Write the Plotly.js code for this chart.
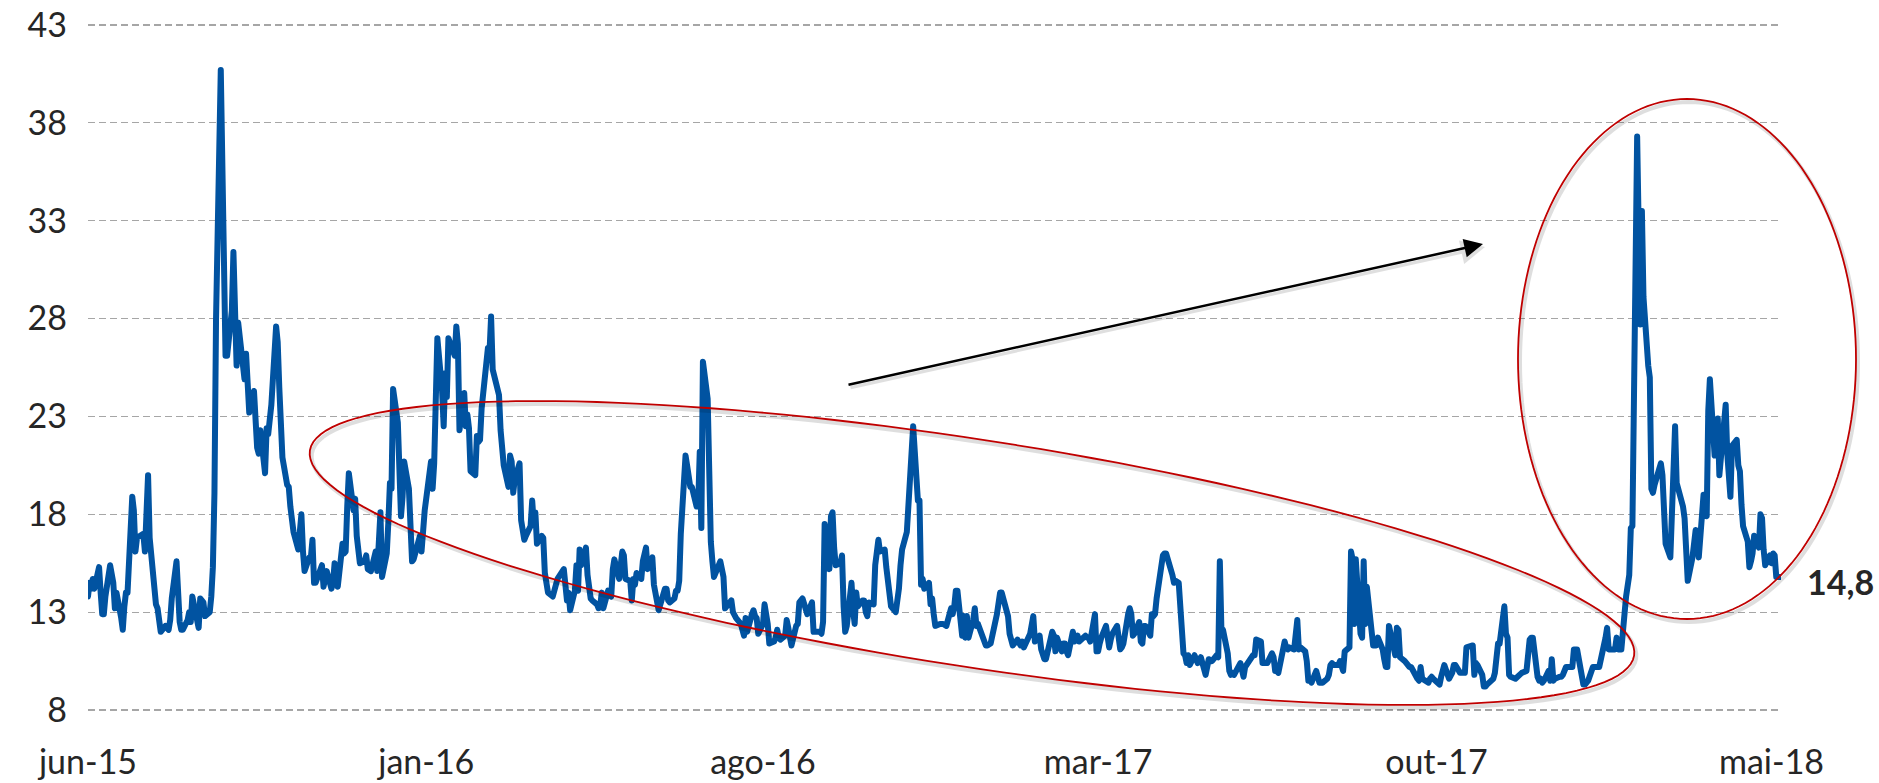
<!DOCTYPE html>
<html>
<head>
<meta charset="utf-8">
<script src="https://cdn.plot.ly/plotly-3.0.1.min.js"></script>
<style>
html,body{margin:0;padding:0;background:#ffffff;}
#chart{width:1879px;height:783px;}
.js-line{stroke-linejoin:round !important;stroke-linecap:round !important;}
</style>
</head>
<body>
<div id="chart"></div>
<script>
// ---- data (daily closes) ----
const days2015 = [
 "06-01","06-02","06-03","06-04","06-05","06-08","06-09","06-10","06-11","06-12","06-15","06-16","06-17","06-18","06-19","06-22","06-23","06-24","06-25","06-26","06-29","06-30",
 "07-01","07-02","07-06","07-07","07-08","07-09","07-10","07-13","07-14","07-15","07-16","07-17","07-20","07-21","07-22","07-23","07-24","07-27","07-28","07-29","07-30","07-31",
 "08-03","08-04","08-05","08-06","08-07","08-10","08-11","08-12","08-13","08-14","08-17","08-18","08-19","08-20","08-21","08-24","08-25","08-26","08-27","08-28","08-31",
 "09-01","09-02","09-03","09-04","09-08","09-09","09-10","09-11","09-14","09-15","09-16","09-17","09-18","09-21","09-22","09-23","09-24","09-25","09-28","09-29","09-30",
 "10-01","10-02","10-05","10-06","10-07","10-08","10-09","10-12","10-13","10-14","10-15","10-16","10-19","10-20","10-21","10-22","10-23","10-26","10-27","10-28","10-29","10-30",
 "11-02","11-03","11-04","11-05","11-06","11-09","11-10","11-11","11-12","11-13","11-16","11-17","11-18","11-19","11-20","11-23","11-24","11-25","11-27","11-30",
 "12-01","12-02","12-03","12-04","12-07","12-08","12-09","12-10","12-11","12-14","12-15","12-16","12-17","12-18","12-21","12-22","12-23","12-24","12-28","12-29","12-30","12-31"
];
const vals2015 = [
 13.8,14.5,14.2,14.7,14.2,15.3,14.0,12.9,12.9,13.8,15.4,14.8,14.5,13.2,14.0,12.7,12.1,13.3,14.0,14.0,18.9,18.2,
 16.1,16.8,17.0,16.1,19.7,20.0,16.8,13.9,13.4,13.2,12.1,12.0,12.3,12.2,12.1,12.6,13.7,15.6,13.4,12.5,12.1,12.1,
 12.6,13.0,12.5,13.8,13.4,12.2,13.7,13.6,13.5,12.8,13.0,13.8,15.3,19.1,28.0,40.7,36.0,30.3,26.1,26.1,28.4,
 31.4,26.1,25.6,27.8,24.9,26.2,24.4,23.2,24.3,22.5,21.4,21.1,22.3,20.1,22.4,22.1,23.5,23.6,27.6,26.8,24.5,
 22.6,20.9,19.5,19.4,18.4,17.4,17.1,16.2,17.7,18.0,16.1,15.1,15.8,15.8,16.7,14.5,14.5,15.3,15.4,14.3,14.6,15.1,
 14.2,14.5,15.5,15.1,14.3,16.5,16.0,16.1,18.4,20.1,18.2,18.8,16.9,16.1,15.5,15.6,15.9,15.2,15.1,16.1,
 15.1,16.6,18.1,14.8,16.0,17.6,19.6,19.3,24.4,22.7,21.0,17.9,18.9,20.7,19.3,16.6,15.6,15.7,16.9,16.1,17.3,18.2
];

const days2016 = [
 "01-04","01-05","01-06","01-07","01-08","01-11","01-12","01-13","01-14","01-15","01-19","01-20","01-21","01-22","01-25","01-26","01-27","01-28","01-29",
 "02-01","02-02","02-03","02-04","02-05","02-08","02-09","02-10","02-11","02-12","02-16","02-17","02-18","02-19","02-22","02-23","02-24","02-25","02-26","02-29",
 "03-01","03-02","03-03","03-04","03-07","03-08","03-09","03-10","03-11","03-14","03-15","03-16","03-17","03-18","03-21","03-22","03-23","03-24","03-28","03-29","03-30","03-31",
 "04-01","04-04","04-05","04-06","04-07","04-08","04-11","04-12","04-13","04-14","04-15","04-18","04-19","04-20","04-21","04-22","04-25","04-26","04-27","04-28","04-29",
 "05-02","05-03","05-04","05-05","05-06","05-09","05-10","05-11","05-12","05-13","05-16","05-17","05-18","05-19","05-20","05-23","05-24","05-25","05-26","05-27","05-31",
 "06-01","06-02","06-03","06-06","06-07","06-08","06-09","06-10","06-13","06-14","06-15","06-16","06-17","06-20","06-21","06-22","06-23","06-24","06-27","06-28","06-29","06-30",
 "07-01","07-05","07-06","07-07","07-08","07-11","07-12","07-13","07-14","07-15","07-18","07-19","07-20","07-21","07-22","07-25","07-26","07-27","07-28","07-29",
 "08-01","08-02","08-03","08-04","08-05","08-08","08-09","08-10","08-11","08-12","08-15","08-16","08-17","08-18","08-19","08-22","08-23","08-24","08-25","08-26","08-29","08-30","08-31",
 "09-01","09-02","09-06","09-07","09-08","09-09","09-12","09-13","09-14","09-15","09-16","09-19","09-20","09-21","09-22","09-23","09-26","09-27","09-28","09-29","09-30",
 "10-03","10-04","10-05","10-06","10-07","10-10","10-11","10-12","10-13","10-14","10-17","10-18","10-19","10-20","10-21","10-24","10-25","10-26","10-27","10-28","10-31",
 "11-01","11-02","11-03","11-04","11-07","11-08","11-09","11-10","11-11","11-14","11-15","11-16","11-17","11-18","11-21","11-22","11-23","11-25","11-28","11-29","11-30",
 "12-01","12-02","12-05","12-06","12-07","12-08","12-09","12-12","12-13","12-14","12-15","12-16","12-19","12-20","12-21","12-22","12-23","12-27","12-28","12-29","12-30"
];
const vals2016 = [
 20.7,19.3,20.6,25.0,27.0,24.3,22.5,25.2,24.0,27.0,26.1,27.6,26.7,22.3,24.2,22.5,23.1,22.4,20.2,
 20.0,22.0,21.7,21.8,23.4,26.0,26.5,26.3,28.1,25.4,24.1,22.3,21.6,20.5,19.4,21.0,20.7,19.1,19.8,20.6,
 17.7,17.1,16.7,16.9,17.4,18.7,17.5,18.1,16.5,16.9,16.8,15.0,14.4,14.0,13.8,14.2,14.5,14.7,15.2,13.8,13.6,14.0,
 13.1,14.1,15.4,14.1,16.2,15.4,16.3,14.9,13.8,13.7,13.6,13.4,13.2,13.3,14.0,13.2,14.1,14.0,13.8,15.2,15.7,
 14.7,15.6,16.1,15.9,14.7,14.6,13.6,14.7,14.4,15.0,14.7,15.6,16.0,16.3,15.2,15.8,14.4,13.9,13.4,13.1,14.2,
 14.2,13.6,13.5,13.7,14.1,14.1,14.6,17.0,21.0,20.5,20.1,19.4,19.4,18.4,18.5,21.2,17.3,25.8,23.9,18.8,16.6,15.6,
 14.8,15.6,15.0,14.8,13.2,13.5,13.6,13.0,12.8,12.7,12.4,12.0,11.8,12.7,12.0,12.9,13.1,12.8,12.7,11.9,
 12.4,13.4,12.9,12.4,11.4,11.5,11.7,12.1,11.7,11.6,11.8,12.6,12.2,11.4,11.3,12.3,12.4,13.5,13.6,13.7,12.9,13.1,13.4,
 13.5,12.0,12.0,11.9,12.5,17.5,15.2,17.9,18.1,16.3,15.4,15.5,15.9,13.3,12.0,12.3,14.5,13.1,12.4,14.0,13.3,
 13.6,13.6,13.0,12.8,13.5,13.4,15.4,15.9,16.7,16.1,16.2,15.3,14.4,13.8,13.3,13.0,13.5,14.2,15.4,16.2,17.1,
 18.6,19.3,22.1,22.5,18.7,18.7,14.4,14.7,14.2,14.5,13.4,13.7,12.9,12.3,12.4,12.4,12.4,12.3,13.2,12.9,13.3,
 14.1,14.1,11.8,12.8,11.7,12.8,11.7,12.6,13.2,12.3,12.4,12.2,11.4,11.3,11.3,11.4,11.4,12.9,13.9,14.0,14.0
];

const days2017 = [
 "01-03","01-04","01-05","01-06","01-09","01-10","01-11","01-12","01-13","01-17","01-18","01-19","01-20","01-23","01-24","01-25","01-26","01-27","01-30","01-31",
 "02-01","02-02","02-03","02-06","02-07","02-08","02-09","02-10","02-13","02-14","02-15","02-16","02-17","02-21","02-22","02-23","02-24","02-27","02-28",
 "03-01","03-02","03-03","03-06","03-07","03-08","03-09","03-10","03-13","03-14","03-15","03-16","03-17","03-20","03-21","03-22","03-23","03-24","03-27","03-28","03-29","03-30","03-31",
 "04-03","04-04","04-05","04-06","04-07","04-10","04-11","04-12","04-13","04-17","04-18","04-19","04-20","04-21","04-24","04-25","04-26","04-27","04-28",
 "05-01","05-02","05-03","05-04","05-05","05-08","05-09","05-10","05-11","05-12","05-15","05-16","05-17","05-18","05-19","05-22","05-23","05-24","05-25","05-26","05-30","05-31",
 "06-01","06-02","06-05","06-06","06-07","06-08","06-09","06-12","06-13","06-14","06-15","06-16","06-19","06-20","06-21","06-22","06-23","06-26","06-27","06-28","06-29","06-30",
 "07-03","07-05","07-06","07-07","07-10","07-11","07-12","07-13","07-14","07-17","07-18","07-19","07-20","07-21","07-24","07-25","07-26","07-27","07-28","07-31",
 "08-01","08-02","08-03","08-04","08-07","08-08","08-09","08-10","08-11","08-14","08-15","08-16","08-17","08-18","08-21","08-22","08-23","08-24","08-25","08-28","08-29","08-30","08-31",
 "09-01","09-05","09-06","09-07","09-08","09-11","09-12","09-13","09-14","09-15","09-18","09-19","09-20","09-21","09-22","09-25","09-26","09-27","09-28","09-29",
 "10-02","10-03","10-04","10-05","10-06","10-09","10-10","10-11","10-12","10-13","10-16","10-17","10-18","10-19","10-20","10-23","10-24","10-25","10-26","10-27","10-30","10-31",
 "11-01","11-02","11-03","11-06","11-07","11-08","11-09","11-10","11-13","11-14","11-15","11-16","11-17","11-20","11-21","11-22","11-24","11-27","11-28","11-29","11-30",
 "12-01","12-04","12-05","12-06","12-07","12-08","12-11","12-12","12-13","12-14","12-15","12-18","12-19","12-20","12-21","12-22","12-26","12-27","12-28","12-29"
];
const vals2017 = [
 12.8,11.9,11.7,11.3,11.6,11.5,11.3,11.5,11.2,11.9,12.5,12.8,11.5,11.8,11.1,10.8,10.6,10.6,11.9,12.0,
 11.8,11.0,11.7,11.0,11.4,11.4,11.0,10.8,12.0,11.5,11.7,11.8,11.5,11.8,11.7,11.7,11.5,12.9,11.0,
 11.0,11.4,11.7,12.3,11.5,11.2,11.6,11.9,12.3,11.6,11.1,11.2,11.4,12.9,13.2,12.9,11.8,11.9,12.5,11.5,11.4,12.3,12.3,
 11.8,12.9,12.8,12.9,13.7,15.5,15.9,16.0,16.0,14.9,14.5,14.6,14.5,14.5,10.9,10.8,10.4,10.8,10.3,
 10.8,10.6,10.4,10.5,10.7,9.8,10.4,10.6,10.5,10.5,10.8,10.7,15.6,12.1,12.1,10.9,10.0,9.8,9.9,9.8,10.4,9.8,
 9.7,10.2,10.6,10.7,10.8,10.8,11.6,11.5,10.4,10.4,10.4,10.4,10.9,10.7,10.0,10.0,9.9,11.1,11.5,11.2,11.1,11.2,
 11.1,12.6,11.1,11.2,11.0,10.5,9.5,9.6,9.4,10.0,9.5,9.4,9.4,9.4,9.6,9.8,10.3,10.4,10.3,10.3,
 10.5,10.1,10.0,11.0,11.2,16.1,15.7,12.4,15.7,11.9,11.7,15.6,12.4,14.3,11.4,11.3,11.3,11.3,11.7,11.1,10.6,10.2,10.2,
 12.3,10.8,12.2,12.1,10.7,10.5,10.4,10.2,10.2,10.2,9.6,9.6,9.5,10.2,9.6,9.5,9.4,9.6,9.7,9.6,
 9.4,9.3,9.7,9.9,10.3,9.6,9.7,9.9,10.3,10.3,9.9,9.9,9.9,9.9,11.2,11.3,11.3,9.8,10.4,10.3,9.8,9.2,
 9.2,9.3,9.4,9.6,9.9,11.3,11.4,11.4,13.3,11.9,11.7,9.8,9.7,9.6,9.7,9.7,9.9,10.0,11.5,11.6,11.7,
 11.7,9.7,9.5,9.6,9.4,9.5,10.0,9.5,10.6,9.5,9.6,9.7,9.7,9.8,10.1,10.2,10.2,11.1,11.1,11.1
];

const days2018 = [
 "01-02","01-03","01-04","01-05","01-08","01-09","01-10","01-11","01-12","01-16","01-17","01-18","01-19","01-22","01-23","01-24","01-25","01-26","01-29","01-30","01-31",
 "02-01","02-02","02-05","02-06","02-07","02-08","02-09","02-12","02-13","02-14","02-15","02-16","02-20","02-21","02-22","02-23","02-26","02-27","02-28",
 "03-01","03-02","03-05","03-06","03-07","03-08","03-09","03-12","03-13","03-14","03-15","03-16","03-19","03-20","03-21","03-22","03-23","03-26","03-27","03-28","03-29",
 "04-02","04-03","04-04","04-05","04-06","04-09","04-10","04-11","04-12","04-13","04-16","04-17","04-18","04-19","04-20","04-23","04-24","04-25","04-26","04-27","04-30",
 "05-01","05-02","05-03","05-04","05-07"
];
const vals2018 = [
 9.3,9.3,9.4,9.5,10.2,10.2,10.2,10.2,10.2,11.7,12.2,11.1,11.1,11.1,11.7,11.1,11.1,11.1,13.8,14.8,14.9,
 17.3,17.4,37.3,30.0,27.7,33.5,29.1,25.6,25.0,19.3,19.1,19.5,20.6,20.0,18.7,16.5,15.8,18.6,19.9,
 22.5,19.6,18.7,18.4,17.8,16.5,14.6,15.8,16.4,17.2,16.6,15.8,19.0,18.2,17.9,23.3,24.9,21.0,22.5,22.9,20.0,
 23.6,21.1,20.1,18.9,21.5,21.8,20.5,20.2,18.5,17.4,16.6,15.3,15.6,16.0,16.9,16.3,18.0,17.8,16.2,15.4,15.9,
 15.5,16.0,15.9,14.8,14.8
];

const yTicks = [8, 13, 18, 23, 28, 33, 38, 43];
const xTickDates = ["2015-06-01","2016-01-01","2016-08-01","2017-03-01","2017-10-01","2018-05-01"];
const xTickLabels = ["jun-15","jan-16","ago-16","mar-17","out-17","mai-18"];
const lastValueLabel = "14,8";

// ---- build the series ----
function joinYear(year, days, vals) {
  const n = Math.min(days.length, vals.length);
  if (days.length !== vals.length) console.warn(year, days.length, vals.length);
  const xs = [], ys = [];
  for (let i = 0; i < n; i++) { xs.push(year + "-" + days[i]); ys.push(vals[i]); }
  return [xs, ys];
}
const parts = [
  joinYear(2015, days2015, vals2015),
  joinYear(2016, days2016, vals2016),
  joinYear(2017, days2017, vals2017),
  joinYear(2018, days2018, vals2018)
];
const X = [].concat(...parts.map(p => p[0]));
const Y = [].concat(...parts.map(p => p[1]));

// ---- layout geometry ----
const W = 1879, H = 783;
const M = {l: 88, r: 98, t: 22, b: 70};
const PW = W - M.l - M.r, PH = H - M.t - M.b;
const px = v => (v - M.l) / PW;
const py = v => (H - M.b - v) / PH;

function ellipsePath(cx, cy, a, b, deg) {
  const th = deg * Math.PI / 180;
  let s = "";
  for (let i = 0; i <= 160; i++) {
    const t = 2 * Math.PI * i / 160;
    const ex = cx + a * Math.cos(t) * Math.cos(th) - b * Math.sin(t) * Math.sin(th);
    const ey = cy + a * Math.cos(t) * Math.sin(th) + b * Math.sin(t) * Math.cos(th);
    s += (i ? "L" : "M") + px(ex).toFixed(5) + "," + py(ey).toFixed(5);
  }
  return s + "Z";
}

const red = "#C00000";
const shadow = "rgba(0,0,0,0.13)";
const shapes = [
  {type: "path", xref: "paper", yref: "paper", path: ellipsePath(974, 556, 670, 113.5, 8.8), line: {color: shadow, width: 4}},
  {type: "path", xref: "paper", yref: "paper", path: ellipsePath(1689, 362, 169, 260, 0), line: {color: shadow, width: 4}},
  {type: "path", xref: "paper", yref: "paper", path: ellipsePath(972, 553, 670, 113.5, 8.8), line: {color: red, width: 1.8}},
  {type: "path", xref: "paper", yref: "paper", path: ellipsePath(1687, 359, 169, 260, 0), line: {color: red, width: 1.8}}
];

const tail = {x: 847, y: 385}, tip = {x: 1483, y: 244};
const annotations = [
  {xref: "paper", yref: "paper", x: px(tip.x + 2), y: py(tip.y + 3), ax: tail.x - tip.x, ay: tail.y - tip.y,
   showarrow: true, arrowhead: 2, arrowsize: 1.5, arrowwidth: 3.2, arrowcolor: "rgba(0,0,0,0.12)", text: "", standoff: 0},
  {xref: "paper", yref: "paper", x: px(tip.x), y: py(tip.y), ax: tail.x - tip.x, ay: tail.y - tip.y,
   showarrow: true, arrowhead: 2, arrowsize: 1.5, arrowwidth: 2.5, arrowcolor: "#000000", text: "", standoff: 0},
  {xref: "paper", yref: "paper", x: px(1805), y: py(581), xanchor: "left", yanchor: "middle",
   text: "<b>" + lastValueLabel + "</b>", showarrow: false,
   font: {family: "Lato, 'Open Sans', sans-serif", size: 34, color: "#262626"}}
];

const trace = {
  x: X, y: Y, type: "scatter", mode: "lines",
  line: {color: "#0153A1", width: 6}, hoverinfo: "skip"
};

const layout = {
  width: W, height: H,
  margin: M,
  paper_bgcolor: "#ffffff", plot_bgcolor: "#ffffff",
  showlegend: false,
  font: {family: "Lato, 'Open Sans', sans-serif", size: 34, color: "#262626"},
  xaxis: {
    type: "date", range: ["2015-06-01", "2018-05-07"],
    tickmode: "array", tickvals: xTickDates, ticktext: xTickLabels,
    showgrid: false, zeroline: false, showline: false, ticks: "",
    ticklabelstandoff: 26,
    tickfont: {size: 34, color: "#262626"}
  },
  yaxis: {
    range: [7.85, 43.15],
    tickmode: "array", tickvals: yTicks, ticktext: yTicks.map(String),
    showgrid: true, gridcolor: "#A6A6A6", gridwidth: 1.3, griddash: "7px,4px",
    zeroline: false, showline: false, ticks: "",
    ticklabelstandoff: 20,
    tickfont: {size: 34, color: "#262626"}
  },
  shapes: shapes,
  annotations: annotations
};

Plotly.newPlot("chart", [trace], layout, {staticPlot: true, displayModeBar: false});
</script>
</body>
</html>
